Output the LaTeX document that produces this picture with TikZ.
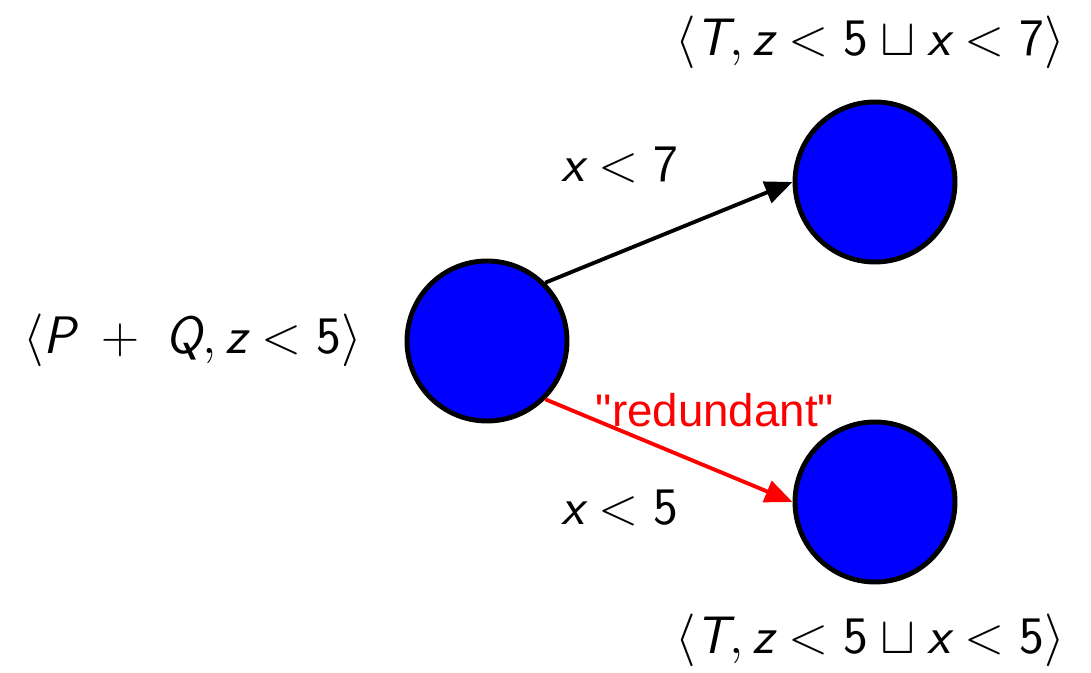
\RequirePackage{fix-cm}
\documentclass[tikz,border=0pt]{standalone}
\usepackage{fontspec}
\setmainfont{Liberation Sans}[Ligatures=TeXOff]
\setsansfont{Latin Modern Sans}
\usepackage{tikz}
\usetikzlibrary{positioning,arrows.meta}
\newcommand{\mv}[1]{\textsf{\itshape #1}}
\newcommand{\mn}[1]{\textsf{#1}}
\tikzset{
  statenode/.style={circle, draw=black, fill=blue, line width=2.8pt, minimum size=3.2cm, inner sep=0pt},
  edgearrow/.style={-{Triangle[length=5.5mm,width=4.5mm]}, line width=2.2pt},
  mathlabel/.style={font=\fontsize{30}{36}\selectfont, inner sep=0pt},
}
\begin{document}
\begin{tikzpicture}
  \useasboundingbox (0,0) rectangle (21.82,-13.46);
  \node[statenode] (src) at (9.74,-6.82) {};
  \node[statenode] (dst7) at (17.5,-3.64) {};
  \node[statenode] (dst5) at (17.5,-10.04) {};
  % state labels
  \node[mathlabel] (srclab) at (3.85,-6.8) {$\langle \mv{P} \;+\; \mv{Q}, \mv{z} < \mn{5}\rangle$};
  \node[mathlabel] (dst7lab) at (17.4,-0.84) {$\langle \mv{T}, \mv{z} < \mn{5} \sqcup \mv{x} < \mn{7}\rangle$};
  \node[mathlabel] (dst5lab) at (17.4,-12.8) {$\langle \mv{T}, \mv{z} < \mn{5} \sqcup \mv{x} < \mn{5}\rangle$};
  % transitions
  \draw[edgearrow] (src.45) -- (dst7.west);
  \draw[edgearrow, red] (src.-45) -- (dst5.west);
  \node[mathlabel] (guard7) at (12.4,-3.3) {$\mv{x} < \mn{7}$};
  \node[mathlabel] (guard5) at (12.4,-10.16) {$\mv{x} < \mn{5}$};
  \node[font=\fontsize{26}{30}\selectfont, text=red, inner sep=0pt] (redund) at (14.3,-8.2) {"redundant"};
\end{tikzpicture}
\end{document}
